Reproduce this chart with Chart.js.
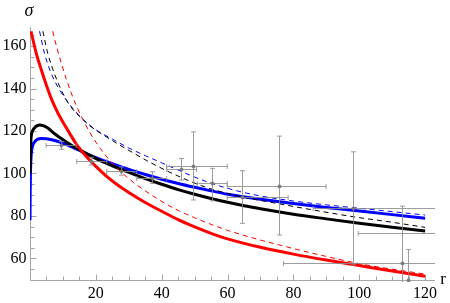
<!DOCTYPE html>
<html lang="en">
<head>
<meta charset="UTF-8">
<title>sigma vs r</title>
<script src="https://cdn.jsdelivr.net/npm/chart.js"></script>
<style>
    body {
        margin: 0;
        background: #ffffff;
    }

    #wrap {
        width: 450px;
        height: 303px;
        position: relative;
    }
</style>
</head>
<body>
<div id="wrap"><canvas id="sigmaChart"></canvas></div>

<script>
    // curves (r, sigma)
    const redR = [0.3, 2, 3.4, 5, 6.4, 8, 9.5, 12, 14, 16, 18, 20, 23, 26, 30, 35, 40, 45, 50, 55, 60, 70, 80, 90, 100, 110, 120];
    const redS = [167, 156, 149, 141.5, 135.5, 130, 125.5, 119, 114, 110, 106.5, 103.3, 99, 95.3, 91, 86.3, 82.2, 78.2, 74.8, 71.8, 69.2, 65.2, 62, 59.2, 56.6, 54, 51.6];

    const blackR = [0, 0.05, 0.15, 0.35, 0.7, 1.4, 2.2, 3, 4, 5.4, 7.5, 9.5, 12, 15, 18, 21, 25, 30, 35, 40, 45, 50, 55, 60, 65, 70, 80, 90, 100, 110, 120];
    const blackS = [100, 106, 112, 117.3, 119.8, 121.5, 122.5, 122.8, 122.5, 121.4, 118.7, 116.5, 113.9, 111.2, 108.6, 106.3, 103.6, 100.5, 97.6, 94.9, 92.4, 90.2, 88.2, 86.4, 84.8, 83.4, 80.8, 78.6, 76.5, 74.6, 72.9];

    const blueR = [0, 0.05, 0.15, 0.35, 0.7, 1.4, 2.4, 3.4, 5, 7.5, 10, 13, 16, 20, 25, 30, 35, 40, 45, 50, 55, 60, 70, 80, 90, 100, 110, 120];
    const blueS = [78, 90, 101, 108.5, 112.5, 114.9, 116.2, 116.5, 116.3, 115.5, 114.2, 112.3, 110.1, 107.5, 104.6, 101.9, 99.5, 97.3, 95.3, 93.5, 91.8, 90.2, 87.8, 85.8, 84, 82.3, 80.6, 78.9];

    const redDashR = [6.9, 8, 9.5, 11, 12.5, 14, 16, 18, 20, 22.5, 25, 28, 31, 35, 40, 45, 50, 55, 60, 65, 70, 75, 80, 90, 100, 110, 120];
    const redDashS = [167, 160.2, 152, 144.6, 138, 132.2, 125.6, 119.8, 114.8, 109.4, 104.8, 100.2, 96.3, 91.8, 86.8, 82.6, 79.1, 76, 73.2, 70.8, 68.6, 66.6, 64.6, 60.9, 57.5, 54.9, 52.6];

    const blackDashR = [3.9, 5.4, 7.4, 9.5, 12, 15.5, 19, 22.6, 26.7, 31, 35.3, 43.5, 53.6, 63.8, 74.9, 86, 98.2, 110, 120];
    const blackDashS = [167, 156.6, 147.1, 139.3, 132.2, 126.2, 121.5, 117.8, 113.9, 110, 106.2, 99.8, 93.4, 89.2, 85.9, 82.8, 79.6, 77, 74.6];

    const blueDashR = [2.9, 4.4, 6.4, 9, 12, 16, 20, 25, 30, 35, 40, 45, 50, 55, 60, 65, 70, 80, 90, 100, 110, 120];
    const blueDashS = [167, 156.6, 147.3, 139.3, 132.6, 125.6, 120.6, 116.2, 112, 108.4, 105, 101.6, 98.3, 95.4, 93, 91, 89.4, 87, 85.2, 83.6, 82, 80.4];

    // measured points with error bars
    const ptR    = [9.45, 18.6, 27.7, 36.9, 46.0, 49.6, 55.2, 64.3, 75.6, 98.2, 113.1, 114.7, 135];
    const ptS    = [113.4, 106.0, 101.3, 98.0, 102.1, 103.6, 95.3, 89.0, 94.2, 83.5, 57.9, 50.0, 71.8];
    const ptRLo  = [4.9, 14.2, 23.3, 32.4, 41.5, 41.5, 50.8, 59.9, 59.9, 86.0, 77.0, 114.7, 99.7];
    const ptRHi  = [14.0, 23.3, 32.4, 41.5, 50.6, 59.9, 59.9, 78.4, 89.9, 130, 150, 114.7, 160];
    const ptSLo  = [111.4, 104.0, 99.2, 95.3, 96.9, 87.5, 87.1, 76.5, 71.0, 56.9, 31.0, 36.0, 71.8];
    const ptSHi  = [115.0, 107.6, 103.1, 100.8, 107.1, 119.6, 102.4, 101.3, 117.6, 110.2, 84.6, 64.2, 71.8];

    // axes
    const xTicks = [20, 40, 60, 80, 100, 120];
    const yTicks = [60, 80, 100, 120, 140, 160];
    const xMax = 123;
    const yMin = 49.8;
    const yMax = 169;

    const axisGray = '#a6a6a6';
    const barGray = 'rgba(140,140,140,0.85)';
    const serif = '"Liberation Serif", "Times New Roman", Times, serif';

    function pairs(rs, ss) {
        return rs.map((r, i) => ({x: r, y: ss[i]}));
    }

    function curve(rs, ss, color, width, dash) {
        return {
            data: pairs(rs, ss),
            showLine: true,
            borderColor: color,
            borderWidth: width,
            borderDash: dash || [],
            pointRadius: 0,
            cubicInterpolationMode: 'monotone',
            fill: false
        };
    }

    // Mathematica-like axes: lines through origin, ticks pointing inward
    const axesPlugin = {
        id: 'mmaAxes',
        beforeDatasetsDraw(chart) {
            const {ctx, scales: {x, y}} = chart;
            const x0 = Math.round(x.getPixelForValue(0)) + 0.5;
            const y0 = Math.round(y.getPixelForValue(yMin)) + 0.5;
            ctx.save();
            ctx.strokeStyle = axisGray;
            ctx.lineWidth = 1;
            ctx.beginPath();
            ctx.moveTo(x0, y0);
            ctx.lineTo(x.getPixelForValue(xMax), y0);
            ctx.moveTo(x0, y0);
            ctx.lineTo(x0, y.getPixelForValue(yMax));
            for (let v = 5; v <= 120; v += 5) {
                const px = Math.round(x.getPixelForValue(v)) + 0.5;
                const len = v % 20 === 0 ? 6 : 4;
                ctx.moveTo(px, y0);
                ctx.lineTo(px, y0 - len);
            }
            for (let v = 55; v <= 165; v += 5) {
                const py = Math.round(y.getPixelForValue(v)) + 0.5;
                const len = v % 20 === 0 ? 6 : 4;
                ctx.moveTo(x0, py);
                ctx.lineTo(x0 + len, py);
            }
            ctx.stroke();

            ctx.fillStyle = '#000000';
            ctx.font = '16px ' + serif;
            ctx.textAlign = 'center';
            ctx.textBaseline = 'middle';
            xTicks.forEach(v => ctx.fillText(String(v), x.getPixelForValue(v), y0 + 13));
            ctx.textAlign = 'right';
            yTicks.forEach(v => ctx.fillText(String(v), x0 - 4, y.getPixelForValue(v)));

            ctx.textAlign = 'center';
            ctx.font = 'italic 18px ' + serif;
            ctx.fillText('σ', 29, 11);
            ctx.font = '17px ' + serif;
            ctx.fillText('r', 443, 280);
            ctx.restore();
        },
        afterDatasetsDraw(chart) {
            const {ctx, chartArea: a, scales: {x, y}} = chart;
            ctx.save();
            ctx.beginPath();
            ctx.rect(a.left, a.top, a.right - a.left, a.bottom - a.top + 2);
            ctx.clip();
            ctx.strokeStyle = barGray;
            ctx.fillStyle = 'rgba(120,120,120,0.9)';
            ctx.lineWidth = 1;
            ptR.forEach((r, i) => {
                const cx = Math.round(x.getPixelForValue(r)) + 0.5;
                const cy = Math.round(y.getPixelForValue(ptS[i])) + 0.5;
                const xl = x.getPixelForValue(ptRLo[i]);
                const xr = x.getPixelForValue(ptRHi[i]);
                const yt = y.getPixelForValue(ptSHi[i]);
                const yb = y.getPixelForValue(ptSLo[i]);
                ctx.beginPath();
                if (xr - xl > 1) {
                    ctx.moveTo(xl, cy);
                    ctx.lineTo(xr, cy);
                    ctx.moveTo(xl, cy - 2.5);
                    ctx.lineTo(xl, cy + 2.5);
                    ctx.moveTo(xr, cy - 2.5);
                    ctx.lineTo(xr, cy + 2.5);
                }
                if (yb - yt > 1) {
                    ctx.moveTo(cx, yt);
                    ctx.lineTo(cx, yb);
                    ctx.moveTo(cx - 2.5, yt);
                    ctx.lineTo(cx + 2.5, yt);
                    ctx.moveTo(cx - 2.5, yb);
                    ctx.lineTo(cx + 2.5, yb);
                }
                ctx.stroke();
                ctx.beginPath();
                ctx.arc(cx, cy, 2, 0, Math.PI * 2);
                ctx.fill();
            });
            ctx.restore();
        }
    };

    const ctx = document.getElementById('sigmaChart').getContext('2d');

    new Chart(ctx, {
        type: 'scatter',
        data: {
            datasets: [
                curve(redDashR, redDashS, '#ff0000', 1, [5, 4]),
                curve(blackDashR, blackDashS, '#000000', 1, [5, 4]),
                curve(blueDashR, blueDashS, '#0000ff', 1, [5, 4]),
                curve(redR, redS, '#ff0000', 3),
                curve(blackR, blackS, '#000000', 3),
                curve(blueR, blueS, '#0000ff', 3)
            ]
        },
        options: {
            responsive: true,
            maintainAspectRatio: false,
            animation: false,
            layout: {
                padding: {left: 30, right: 15, top: 27, bottom: 23}
            },
            plugins: {
                legend: {display: false},
                tooltip: {enabled: false}
            },
            scales: {
                x: {type: 'linear', min: 0, max: xMax, display: false},
                y: {type: 'linear', min: yMin, max: yMax, display: false}
            }
        },
        plugins: [axesPlugin]
    });
</script>
</body>
</html>
